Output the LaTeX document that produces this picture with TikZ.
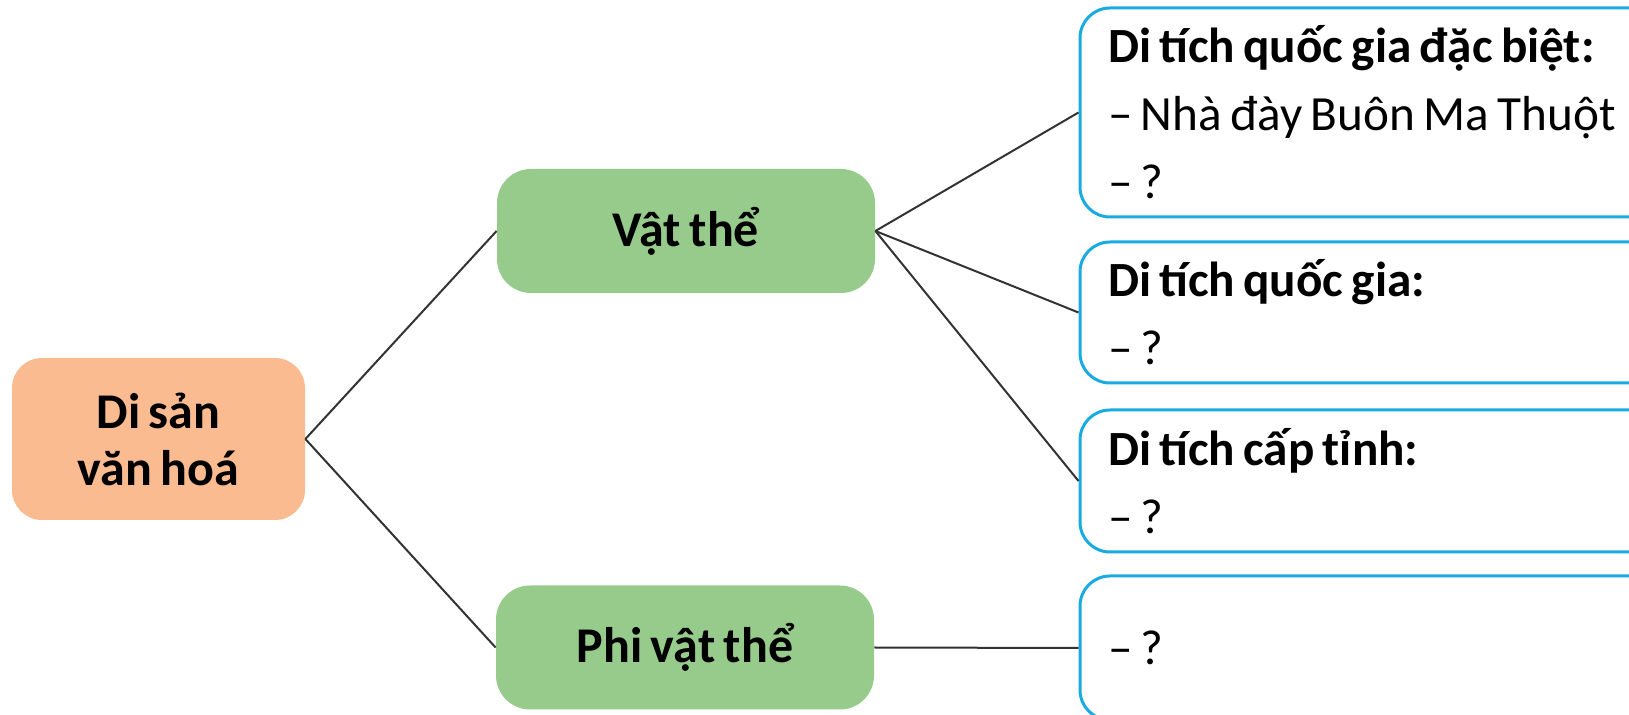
\documentclass[tikz,border=0pt]{standalone}
\usepackage{fontspec}
\setmainfont{Carlito}[WordSpace=0.75]
\definecolor{rootfill}{HTML}{F9BB8F}
\definecolor{kindfill}{HTML}{97CB8B}
\definecolor{leafline}{HTML}{1AAAE2}
\definecolor{linkline}{HTML}{333333}
\tikzset{
    x=0.5pt, y=-0.5pt, % one unit is one pixel of the layout
    root/.style={ % the heritage box on the left
        fill=rootfill,
        rounded corners=15pt,
        minimum width=146.5pt, minimum height=81pt,
        align=center,
        font=\fontsize{25}{28.5}\selectfont\bfseries
    },
    kind/.style={ % the two green boxes
        fill=kindfill,
        rounded corners=17pt,
        minimum width=189pt, minimum height=62pt,
        font=\fontsize{25}{28}\selectfont\bfseries
    },
    leaf/.style={ % the blue framed lists
        draw=leafline, line width=1.5pt,
        rounded corners=15pt,
        anchor=west,
        text width=270pt, inner xsep=14pt,
        align=flush left,
        font=\fontsize{24.6}{34}\selectfont
    },
    every edge/.style={ % the plain links
        draw=linkline,
        line width=1pt
    }
}

\begin{document}
\begin{tikzpicture}
    \useasboundingbox (0,0) rectangle (1629,715);

    \node[root] (heritage) at (158.5,439) {Di sản\\văn hoá};
    \node[kind] (tangible) at (686,231) {Vật thể};
    \node[kind] (intangible) at (685,647.5) {Phi vật thể};

    \node[leaf, minimum height=104.5pt] (special) at (1078.5,112.5)
        {\textbf{Di tích quốc gia đặc biệt:}\\– Nhà đày Buôn Ma Thuột\\– ?};
    \node[leaf, minimum height=70.5pt] (national) at (1078.5,312.5)
        {\textbf{Di tích quốc gia:}\\– ?};
    \node[leaf, minimum height=71pt] (province) at (1078.5,481)
        {\textbf{Di tích cấp tỉnh:}\\– ?};
    \node[leaf, minimum height=72pt] (other) at (1078.5,648)
        {– ?};

    \draw (heritage.east) edge (tangible.west);
    \draw (heritage.east) edge (intangible.west);

    \draw (tangible.east) edge (special.west);
    \draw (tangible.east) edge (national.west);
    \draw (tangible.east) edge (province.west);

    \draw (intangible.east) edge (other.west);
\end{tikzpicture}
\end{document}
